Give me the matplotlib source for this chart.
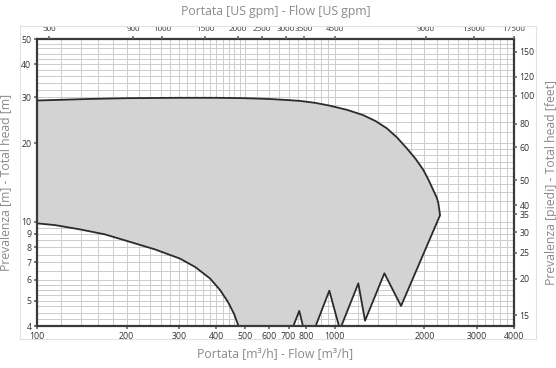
import numpy as np
import matplotlib.pyplot as plt
from matplotlib.ticker import FixedLocator, NullLocator, NullFormatter
from matplotlib.lines import Line2D

# Working field outline: upper curve (left to right), then the jagged right/bottom edge
upper_q = [100, 150, 200, 300, 400, 500, 600, 700, 764, 860, 964, 1100, 1245, 1370,
           1495, 1620, 1746, 1870, 1984, 2070, 2144, 2200, 2228, 2258]
upper_h = [29.1, 29.5, 29.7, 29.8, 29.8, 29.7, 29.5, 29.2, 29.0, 28.5, 27.8, 26.8, 25.6, 24.3,
           22.8, 21.0, 19.1, 17.4, 15.8, 14.4, 13.2, 12.4, 11.8, 10.6]

edge_q = [1670, 1468, 1264, 1200, 1048, 1036, 959, 859, 784, 760, 723, 477]
edge_h = [4.77, 6.36, 4.19, 5.82, 3.95, 3.95, 5.46, 3.95, 3.95, 4.57, 3.95, 3.95]

# lower curve (right to left)
lower_q = [459, 438, 412, 381, 340, 302, 249, 205, 169, 139.5, 115, 100]
lower_h = [4.45, 4.94, 5.49, 6.08, 6.72, 7.24, 7.85, 8.39, 8.96, 9.36, 9.72, 9.87]

x_ticks = [100, 200, 300, 400, 500, 600, 700, 800, 1000, 2000, 3000, 4000]
y_ticks = [4, 5, 6, 7, 8, 9, 10, 20, 30, 40, 50]

# top axis: US gpm labels and where they sit (m3/h)
gpm_labels = ['500', '900', '1000', '1500', '2000', '2500', '3000', '3500', '4500', '9000', '13000', '17500']
gpm_pos = [110, 210, 263, 367, 473, 570, 686, 789, 1002, 2026, 2937, 4000]

# right axis: feet labels and where they sit (m)
ft_labels = ['15', '20', '25', '30', '35', '40', '50', '60', '80', '100', '120', '150']
ft_pos = [4.4, 6.05, 7.62, 9.14, 10.7, 11.6, 14.4, 19.3, 23.7, 30.3, 35.9, 44.7]

FONT = 'Open Sans'
TICK_COLOR = '#333333'
LABEL_COLOR = '#8a8a8a'
SPINE_COLOR = '#3a3a3a'
GRID_COLOR = '#cccccc'
TICK_SIZE = 6.3
TOP_TICK_SIZE = 5.8

fig = plt.figure(figsize=(5.56, 3.68), dpi=100)
ax = fig.add_axes([37 / 556, 1 - 326 / 368, 477 / 556, 287 / 368])

ax.set_xscale('log')
ax.set_yscale('log')
ax.set_xlim(100, 4000)
ax.set_ylim(4, 50)

# grid
vgrid = list(np.arange(120, 500, 20)) + list(np.arange(500, 1000, 50)) + \
    list(np.arange(1000, 4000, 200))
hgrid = list(np.arange(4.25, 6, 0.25)) + list(np.arange(6, 10, 0.5)) + \
    list(np.arange(10, 20, 1)) + list(np.arange(20, 50, 2))
for v in vgrid:
    ax.axvline(v, color=GRID_COLOR, lw=0.7, zorder=1)
for h in hgrid:
    ax.axhline(h, color=GRID_COLOR, lw=0.7, zorder=1)

# working field
poly_q = upper_q + edge_q + lower_q
poly_h = upper_h + edge_h + lower_h
ax.fill(poly_q, poly_h, facecolor='#d3d3d3', edgecolor='none', zorder=2)
ax.plot(poly_q, poly_h, color='#2b2b2b', lw=1.3, zorder=3, solid_joinstyle='round')

for s in ax.spines.values():
    s.set_color(SPINE_COLOR)
    s.set_linewidth(1.6)
    s.set_zorder(5)

ax.xaxis.set_major_locator(FixedLocator(x_ticks))
ax.xaxis.set_minor_locator(NullLocator())
ax.set_xticklabels([str(v) for v in x_ticks])
ax.yaxis.set_major_locator(FixedLocator(y_ticks))
ax.yaxis.set_minor_locator(NullLocator())
ax.set_yticklabels([str(v) for v in y_ticks])
ax.tick_params(length=2, width=1.2, color='#666666', labelsize=TICK_SIZE,
               labelcolor=TICK_COLOR, pad=2)
for lab in ax.get_xticklabels() + ax.get_yticklabels():
    lab.set_family(FONT)

ax.set_xlabel('Portata [m³/h] - Flow [m³/h]', fontsize=8.8, color=LABEL_COLOR,
              family=FONT, labelpad=5)
ax.set_ylabel('Prevalenza [m] - Total head [m]', fontsize=8.8, color=LABEL_COLOR,
              family=FONT, labelpad=7)

# top axis (US gpm)
axt = ax.twiny()
axt.set_xscale('log')
axt.set_xlim(ax.get_xlim())
axt.xaxis.set_major_locator(FixedLocator(gpm_pos))
axt.xaxis.set_minor_locator(NullLocator())
axt.xaxis.set_minor_formatter(NullFormatter())
axt.set_xticklabels(gpm_labels)
axt.tick_params(length=2, width=1.2, color='#666666', labelsize=TOP_TICK_SIZE,
                labelcolor=TICK_COLOR, pad=2)
for lab in axt.get_xticklabels():
    lab.set_family(FONT)
axt.set_xlabel('Portata [US gpm] - Flow [US gpm]', fontsize=8.8, color=LABEL_COLOR,
               family=FONT, labelpad=8)

# right axis (feet)
axr = ax.twinx()
axr.set_yscale('log')
axr.set_ylim(ax.get_ylim())
axr.yaxis.set_major_locator(FixedLocator(ft_pos))
axr.yaxis.set_minor_locator(NullLocator())
axr.yaxis.set_minor_formatter(NullFormatter())
axr.set_yticklabels(ft_labels)
axr.tick_params(length=2, width=1.2, color='#666666', labelsize=TICK_SIZE,
                labelcolor=TICK_COLOR, pad=2)
for lab in axr.get_yticklabels():
    lab.set_family(FONT)
axr.set_ylabel('Prevalenza [piedi] - Total head [feet]', fontsize=8.8,
               color=LABEL_COLOR, family=FONT, labelpad=7)

for a in (axt, axr):
    for s in a.spines.values():
        s.set_visible(False)

# faint frame around the tick label area
fx0, fx1 = 20 / 556, 536 / 556
fy0, fy1 = 1 - 339 / 368, 1 - 26 / 368
for xs, ys in [([fx0, fx1], [fy0, fy0]), ([fx0, fx1], [fy1, fy1]),
               ([fx0, fx0], [fy0, fy1]), ([fx1, fx1], [fy0, fy1])]:
    fig.add_artist(Line2D(xs, ys, color='#e2e2e2', lw=0.8, transform=fig.transFigure))

fig.savefig('out.png', dpi=100)
